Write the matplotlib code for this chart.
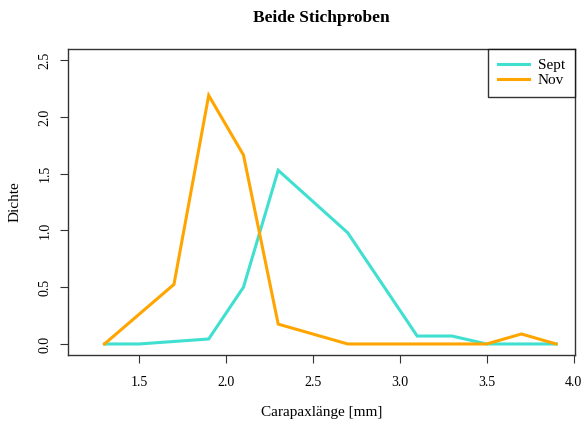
import matplotlib.pyplot as plt

# density values
x_sept = [1.3, 1.5, 1.7, 1.9, 2.1, 2.3, 2.7, 3.1, 3.3, 3.5, 3.7, 3.9]
y_sept = [0.0, 0.0, 0.022, 0.044, 0.50, 1.53, 0.98, 0.07, 0.07, 0.0, 0.0, 0.0]
x_nov = [1.3, 1.7, 1.9, 2.1, 2.3, 2.7, 3.1, 3.3, 3.5, 3.7, 3.9]
y_nov = [0.0, 0.525, 2.19, 1.665, 0.175, 0.0, 0.0, 0.0, 0.0, 0.088, 0.0]
xticks = [1.5, 2.0, 2.5, 3.0, 3.5, 4.0]
yticks = [0.0, 0.5, 1.0, 1.5, 2.0, 2.5]

plt.rcParams['font.family'] = ['Liberation Serif', 'DejaVu Serif']

fig = plt.figure(figsize=(5.85, 4.21), dpi=100)
ax = fig.add_axes([0.1168, 0.156, 0.866, 0.728])

ax.plot(x_sept, y_sept, color='#40E0D0', lw=2.2, label='Sept', solid_joinstyle='miter')
ax.plot(x_nov, y_nov, color='#FFA500', lw=2.2, label='Nov', solid_joinstyle='miter')

ax.set_xlim(1.092, 4.008)
ax.set_ylim(-0.1, 2.6)
ax.set_xticks(xticks)
ax.set_xticklabels([f'{t:.1f}' for t in xticks])
ax.set_yticks(yticks)
ax.set_yticklabels([f'{t:.1f}' for t in yticks], rotation=90, va='center')
ax.tick_params(length=6, width=0.8, labelsize=10, color='#333333')
ax.tick_params(axis='x', pad=9)
ax.tick_params(axis='y', pad=6)
for s in ax.spines.values():
    s.set_linewidth(1.0)
    s.set_color('#333333')

ax.set_title('Beide Stichproben', fontsize=12.5, fontweight='bold', pad=19)
ax.set_xlabel('Carapaxlänge [mm]', fontsize=11, labelpad=12)
ax.set_ylabel('Dichte', fontsize=11, labelpad=12)

leg = ax.legend(loc='upper right', fontsize=11, frameon=True, fancybox=False,
                borderaxespad=0, handlelength=2.0, handletextpad=0.6,
                borderpad=0.65, labelspacing=0.05)
leg.get_frame().set_edgecolor('black')
leg.get_frame().set_linewidth(1.0)

fig.savefig('out.png', dpi=100)
